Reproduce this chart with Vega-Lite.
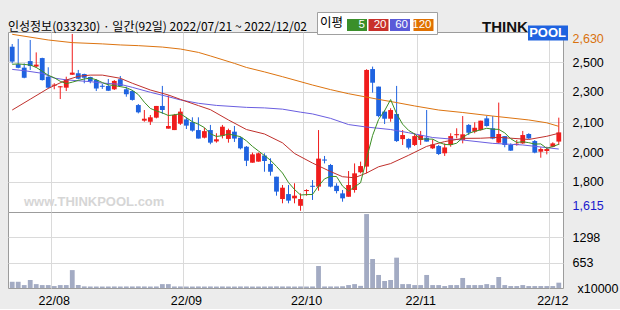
{
  "$schema": "https://vega.github.io/schema/vega-lite/v6.json",
  "background": "#ececec",
  "padding": {"left": 7, "top": 11, "right": 5, "bottom": 2},
  "spacing": 0,
  "bounds": "flush",
  "config": {
    "view": {"stroke": "#9c9c9c", "fill": "#ffffff"},
    "axis": {"gridColor": "#dadada", "gridWidth": 1, "labelFont": "Liberation Sans", "labelFontSize": 12.5, "labelColor": "#000000", "ticks": false, "domain": false, "title": null, "labelOverlap": false}
  },
  "datasets": {
    "candles": [
      {"d":"2022-07-21","o":2547,"h":2562,"l":2453,"c":2463,"vol":160},
      {"d":"2022-07-22","o":2448,"h":2591,"l":2425,"c":2428,"vol":160},
      {"d":"2022-07-25","o":2429,"h":2453,"l":2369,"c":2372,"vol":75},
      {"d":"2022-07-26","o":2466,"h":2585,"l":2416,"c":2438,"vol":205},
      {"d":"2022-07-27","o":2435,"h":2515,"l":2429,"c":2446,"vol":100},
      {"d":"2022-07-28","o":2483,"h":2485,"l":2356,"c":2359,"vol":75},
      {"d":"2022-07-29","o":2378,"h":2431,"l":2312,"c":2316,"vol":75},
      {"d":"2022-08-01","o":2327,"h":2341,"l":2307,"c":2333,"vol":50},
      {"d":"2022-08-02","o":2318,"h":2325,"l":2252,"c":2324,"vol":75},
      {"d":"2022-08-03","o":2316,"h":2378,"l":2297,"c":2363,"vol":75},
      {"d":"2022-08-04","o":2389,"h":2619,"l":2388,"c":2401,"vol":460},
      {"d":"2022-08-05","o":2397,"h":2416,"l":2363,"c":2367,"vol":75},
      {"d":"2022-08-08","o":2393,"h":2395,"l":2341,"c":2372,"vol":42},
      {"d":"2022-08-09","o":2376,"h":2378,"l":2341,"c":2354,"vol":40},
      {"d":"2022-08-10","o":2359,"h":2365,"l":2297,"c":2311,"vol":40},
      {"d":"2022-08-11","o":2327,"h":2337,"l":2309,"c":2321,"vol":38},
      {"d":"2022-08-12","o":2326,"h":2365,"l":2297,"c":2299,"vol":40},
      {"d":"2022-08-16","o":2307,"h":2359,"l":2303,"c":2354,"vol":40},
      {"d":"2022-08-17","o":2363,"h":2382,"l":2322,"c":2326,"vol":38},
      {"d":"2022-08-18","o":2307,"h":2322,"l":2265,"c":2279,"vol":40},
      {"d":"2022-08-19","o":2297,"h":2303,"l":2243,"c":2247,"vol":40},
      {"d":"2022-08-22","o":2218,"h":2224,"l":2171,"c":2177,"vol":42},
      {"d":"2022-08-23","o":2130,"h":2190,"l":2124,"c":2141,"vol":40},
      {"d":"2022-08-24","o":2124,"h":2162,"l":2106,"c":2149,"vol":38},
      {"d":"2022-08-25","o":2147,"h":2213,"l":2143,"c":2213,"vol":40},
      {"d":"2022-08-26","o":2213,"h":2326,"l":2168,"c":2190,"vol":100},
      {"d":"2022-08-29","o":2085,"h":2273,"l":2085,"c":2100,"vol":100},
      {"d":"2022-08-30","o":2077,"h":2168,"l":2077,"c":2162,"vol":40},
      {"d":"2022-08-31","o":2113,"h":2200,"l":2106,"c":2181,"vol":40},
      {"d":"2022-09-01","o":2137,"h":2149,"l":2083,"c":2102,"vol":38},
      {"d":"2022-09-02","o":2122,"h":2149,"l":2068,"c":2074,"vol":38},
      {"d":"2022-09-05","o":2077,"h":2149,"l":2029,"c":2029,"vol":40},
      {"d":"2022-09-06","o":2034,"h":2090,"l":2030,"c":2071,"vol":38},
      {"d":"2022-09-07","o":2077,"h":2106,"l":1997,"c":2006,"vol":40},
      {"d":"2022-09-08","o":2013,"h":2059,"l":2006,"c":2025,"vol":38},
      {"d":"2022-09-13","o":2045,"h":2106,"l":2030,"c":2096,"vol":40},
      {"d":"2022-09-14","o":2027,"h":2085,"l":2006,"c":2077,"vol":38},
      {"d":"2022-09-15","o":2068,"h":2100,"l":2010,"c":2029,"vol":38},
      {"d":"2022-09-16","o":2034,"h":2040,"l":1968,"c":1974,"vol":40},
      {"d":"2022-09-19","o":1983,"h":1987,"l":1874,"c":1904,"vol":40},
      {"d":"2022-09-20","o":1893,"h":1950,"l":1893,"c":1940,"vol":38},
      {"d":"2022-09-21","o":1899,"h":1950,"l":1899,"c":1946,"vol":38},
      {"d":"2022-09-22","o":1933,"h":1946,"l":1842,"c":1903,"vol":40},
      {"d":"2022-09-23","o":1886,"h":1918,"l":1820,"c":1842,"vol":40},
      {"d":"2022-09-26","o":1814,"h":1814,"l":1707,"c":1730,"vol":42},
      {"d":"2022-09-27","o":1688,"h":1767,"l":1664,"c":1752,"vol":40},
      {"d":"2022-09-28","o":1716,"h":1767,"l":1664,"c":1679,"vol":40},
      {"d":"2022-09-29","o":1692,"h":1777,"l":1664,"c":1707,"vol":38},
      {"d":"2022-09-30","o":1650,"h":1720,"l":1622,"c":1688,"vol":40},
      {"d":"2022-10-04","o":1733,"h":1743,"l":1707,"c":1739,"vol":38},
      {"d":"2022-10-05","o":1763,"h":1795,"l":1683,"c":1757,"vol":40},
      {"d":"2022-10-06","o":1758,"h":2077,"l":1735,"c":1916,"vol":565},
      {"d":"2022-10-07","o":1911,"h":1931,"l":1889,"c":1905,"vol":40},
      {"d":"2022-10-11","o":1880,"h":1886,"l":1754,"c":1758,"vol":40},
      {"d":"2022-10-12","o":1763,"h":1777,"l":1720,"c":1733,"vol":40},
      {"d":"2022-10-13","o":1720,"h":1739,"l":1673,"c":1692,"vol":45},
      {"d":"2022-10-14","o":1701,"h":1846,"l":1701,"c":1767,"vol":75},
      {"d":"2022-10-17","o":1739,"h":1889,"l":1724,"c":1833,"vol":100},
      {"d":"2022-10-18","o":1839,"h":1899,"l":1833,"c":1874,"vol":55},
      {"d":"2022-10-19","o":1871,"h":2420,"l":1833,"c":2416,"vol":1900},
      {"d":"2022-10-20","o":2421,"h":2435,"l":2288,"c":2344,"vol":745},
      {"d":"2022-10-21","o":2322,"h":2322,"l":2149,"c":2156,"vol":335},
      {"d":"2022-10-24","o":2181,"h":2190,"l":2111,"c":2141,"vol":180},
      {"d":"2022-10-25","o":2141,"h":2200,"l":2124,"c":2190,"vol":205},
      {"d":"2022-10-26","o":2168,"h":2326,"l":2010,"c":2015,"vol":780},
      {"d":"2022-10-27","o":2026,"h":2077,"l":1993,"c":2049,"vol":100},
      {"d":"2022-10-28","o":2027,"h":2030,"l":1968,"c":1978,"vol":100},
      {"d":"2022-10-31","o":1993,"h":2059,"l":1987,"c":2043,"vol":75},
      {"d":"2022-11-01","o":2021,"h":2072,"l":1993,"c":2049,"vol":75},
      {"d":"2022-11-02","o":2034,"h":2190,"l":2012,"c":2012,"vol":335},
      {"d":"2022-11-03","o":1974,"h":2025,"l":1970,"c":1996,"vol":75},
      {"d":"2022-11-04","o":1987,"h":1993,"l":1936,"c":1942,"vol":75},
      {"d":"2022-11-07","o":1946,"h":2002,"l":1931,"c":1979,"vol":50},
      {"d":"2022-11-08","o":1993,"h":2059,"l":1983,"c":2043,"vol":75},
      {"d":"2022-11-09","o":2048,"h":2087,"l":2030,"c":2054,"vol":75},
      {"d":"2022-11-10","o":2021,"h":2156,"l":2002,"c":2053,"vol":258},
      {"d":"2022-11-11","o":2106,"h":2111,"l":2049,"c":2062,"vol":75},
      {"d":"2022-11-14","o":2068,"h":2121,"l":2059,"c":2090,"vol":75},
      {"d":"2022-11-15","o":2077,"h":2130,"l":2074,"c":2130,"vol":75},
      {"d":"2022-11-16","o":2143,"h":2156,"l":2096,"c":2100,"vol":100},
      {"d":"2022-11-17","o":2087,"h":2156,"l":2025,"c":2029,"vol":75},
      {"d":"2022-11-18","o":2006,"h":2232,"l":2002,"c":2055,"vol":283},
      {"d":"2022-11-21","o":2043,"h":2043,"l":1980,"c":1993,"vol":75},
      {"d":"2022-11-22","o":1993,"h":2002,"l":1959,"c":1961,"vol":50},
      {"d":"2022-11-23","o":1994,"h":2021,"l":1989,"c":2000,"vol":50},
      {"d":"2022-11-24","o":2002,"h":2072,"l":1999,"c":2049,"vol":75},
      {"d":"2022-11-25","o":2055,"h":2059,"l":2027,"c":2030,"vol":50},
      {"d":"2022-11-28","o":2015,"h":2021,"l":1946,"c":1950,"vol":50},
      {"d":"2022-11-29","o":1955,"h":1980,"l":1921,"c":1970,"vol":50},
      {"d":"2022-11-30","o":1959,"h":1983,"l":1940,"c":1970,"vol":50},
      {"d":"2022-12-01","o":1983,"h":2008,"l":1980,"c":2002,"vol":50},
      {"d":"2022-12-02","o":2012,"h":2147,"l":1993,"c":2064,"vol":137}
    ],
    "ma": [
      {"d":"2022-07-21","ma":"120","v":2617},{"d":"2022-07-29","ma":"120","v":2585},{"d":"2022-08-04","ma":"120","v":2570},{"d":"2022-08-11","ma":"120","v":2563},{"d":"2022-08-17","ma":"120","v":2557},{"d":"2022-08-22","ma":"120","v":2553},{"d":"2022-08-26","ma":"120","v":2545},{"d":"2022-08-31","ma":"120","v":2534},{"d":"2022-09-05","ma":"120","v":2515},{"d":"2022-09-07","ma":"120","v":2495},{"d":"2022-09-15","ma":"120","v":2453},{"d":"2022-09-19","ma":"120","v":2430},{"d":"2022-09-22","ma":"120","v":2405},{"d":"2022-09-27","ma":"120","v":2378},{"d":"2022-10-05","ma":"120","v":2331},{"d":"2022-10-11","ma":"120","v":2305},{"d":"2022-10-14","ma":"120","v":2282},{"d":"2022-10-21","ma":"120","v":2250},{"d":"2022-10-26","ma":"120","v":2232},{"d":"2022-10-31","ma":"120","v":2213},{"d":"2022-11-04","ma":"120","v":2190},{"d":"2022-11-10","ma":"120","v":2176},{"d":"2022-11-17","ma":"120","v":2156},{"d":"2022-11-25","ma":"120","v":2134},{"d":"2022-11-30","ma":"120","v":2118},{"d":"2022-12-02","ma":"120","v":2098},
      {"d":"2022-07-21","ma":"60","v":2419},{"d":"2022-07-25","ma":"60","v":2412},{"d":"2022-07-28","ma":"60","v":2397},{"d":"2022-08-01","ma":"60","v":2370},{"d":"2022-08-03","ma":"60","v":2360},{"d":"2022-08-09","ma":"60","v":2350},{"d":"2022-08-11","ma":"60","v":2342},{"d":"2022-08-17","ma":"60","v":2335},{"d":"2022-08-19","ma":"60","v":2318},{"d":"2022-08-24","ma":"60","v":2290},{"d":"2022-08-29","ma":"60","v":2265},{"d":"2022-08-31","ma":"60","v":2247},{"d":"2022-09-05","ma":"60","v":2228},{"d":"2022-09-08","ma":"60","v":2216},{"d":"2022-09-19","ma":"60","v":2205},{"d":"2022-09-22","ma":"60","v":2202},{"d":"2022-09-27","ma":"60","v":2195},{"d":"2022-09-30","ma":"60","v":2178},{"d":"2022-10-05","ma":"60","v":2168},{"d":"2022-10-11","ma":"60","v":2143},{"d":"2022-10-14","ma":"60","v":2108},{"d":"2022-10-19","ma":"60","v":2094},{"d":"2022-10-25","ma":"60","v":2080},{"d":"2022-10-28","ma":"60","v":2062},{"d":"2022-11-03","ma":"60","v":2035},{"d":"2022-11-10","ma":"60","v":2021},{"d":"2022-11-17","ma":"60","v":2002},{"d":"2022-11-24","ma":"60","v":1993},{"d":"2022-12-02","ma":"60","v":1970},
      {"d":"2022-07-21","ma":"20","v":2190},{"d":"2022-07-26","ma":"20","v":2251},{"d":"2022-07-29","ma":"20","v":2312},{"d":"2022-08-03","ma":"20","v":2359},{"d":"2022-08-05","ma":"20","v":2380},{"d":"2022-08-09","ma":"20","v":2387},{"d":"2022-08-11","ma":"20","v":2387},{"d":"2022-08-17","ma":"20","v":2369},{"d":"2022-08-19","ma":"20","v":2341},{"d":"2022-08-24","ma":"20","v":2303},{"d":"2022-08-29","ma":"20","v":2275},{"d":"2022-08-31","ma":"20","v":2250},{"d":"2022-09-05","ma":"20","v":2215},{"d":"2022-09-07","ma":"20","v":2192},{"d":"2022-09-14","ma":"20","v":2134},{"d":"2022-09-19","ma":"20","v":2080},{"d":"2022-09-22","ma":"20","v":2055},{"d":"2022-09-27","ma":"20","v":2005},{"d":"2022-09-29","ma":"20","v":1945},{"d":"2022-10-05","ma":"20","v":1891},{"d":"2022-10-11","ma":"20","v":1843},{"d":"2022-10-13","ma":"20","v":1814},{"d":"2022-10-17","ma":"20","v":1808},{"d":"2022-10-19","ma":"20","v":1835},{"d":"2022-10-21","ma":"20","v":1870},{"d":"2022-10-25","ma":"20","v":1888},{"d":"2022-10-28","ma":"20","v":1935},{"d":"2022-11-02","ma":"20","v":1985},{"d":"2022-11-07","ma":"20","v":2012},{"d":"2022-11-10","ma":"20","v":2030},{"d":"2022-11-15","ma":"20","v":2031},{"d":"2022-11-18","ma":"20","v":2036},{"d":"2022-11-25","ma":"20","v":2024},{"d":"2022-11-30","ma":"20","v":2042},{"d":"2022-12-02","ma":"20","v":2059},
      {"d":"2022-07-21","ma":"5","v":2448},{"d":"2022-07-22","ma":"5","v":2450},{"d":"2022-07-25","ma":"5","v":2447},{"d":"2022-07-26","ma":"5","v":2444},{"d":"2022-07-27","ma":"5","v":2430},{"d":"2022-07-28","ma":"5","v":2409},{"d":"2022-07-29","ma":"5","v":2386},{"d":"2022-08-01","ma":"5","v":2372},{"d":"2022-08-02","ma":"5","v":2352},{"d":"2022-08-03","ma":"5","v":2339},{"d":"2022-08-04","ma":"5","v":2347},{"d":"2022-08-05","ma":"5","v":2357},{"d":"2022-08-08","ma":"5","v":2365},{"d":"2022-08-09","ma":"5","v":2370},{"d":"2022-08-10","ma":"5","v":2361},{"d":"2022-08-11","ma":"5","v":2345},{"d":"2022-08-12","ma":"5","v":2332},{"d":"2022-08-16","ma":"5","v":2328},{"d":"2022-08-17","ma":"5","v":2322},{"d":"2022-08-18","ma":"5","v":2316},{"d":"2022-08-19","ma":"5","v":2301},{"d":"2022-08-22","ma":"5","v":2277},{"d":"2022-08-23","ma":"5","v":2234},{"d":"2022-08-24","ma":"5","v":2199},{"d":"2022-08-25","ma":"5","v":2185},{"d":"2022-08-26","ma":"5","v":2174},{"d":"2022-08-29","ma":"5","v":2159},{"d":"2022-08-30","ma":"5","v":2163},{"d":"2022-08-31","ma":"5","v":2169},{"d":"2022-09-01","ma":"5","v":2147},{"d":"2022-09-02","ma":"5","v":2124},{"d":"2022-09-05","ma":"5","v":2110},{"d":"2022-09-06","ma":"5","v":2091},{"d":"2022-09-07","ma":"5","v":2056},{"d":"2022-09-08","ma":"5","v":2041},{"d":"2022-09-13","ma":"5","v":2045},{"d":"2022-09-14","ma":"5","v":2055},{"d":"2022-09-15","ma":"5","v":2047},{"d":"2022-09-16","ma":"5","v":2040},{"d":"2022-09-19","ma":"5","v":2016},{"d":"2022-09-20","ma":"5","v":1985},{"d":"2022-09-21","ma":"5","v":1959},{"d":"2022-09-22","ma":"5","v":1933},{"d":"2022-09-23","ma":"5","v":1907},{"d":"2022-09-26","ma":"5","v":1872},{"d":"2022-09-27","ma":"5","v":1835},{"d":"2022-09-28","ma":"5","v":1781},{"d":"2022-09-29","ma":"5","v":1742},{"d":"2022-09-30","ma":"5","v":1711},{"d":"2022-10-04","ma":"5","v":1713},{"d":"2022-10-05","ma":"5","v":1714},{"d":"2022-10-06","ma":"5","v":1762},{"d":"2022-10-07","ma":"5","v":1802},{"d":"2022-10-11","ma":"5","v":1816},{"d":"2022-10-12","ma":"5","v":1815},{"d":"2022-10-13","ma":"5","v":1761},{"d":"2022-10-14","ma":"5","v":1732},{"d":"2022-10-17","ma":"5","v":1757},{"d":"2022-10-18","ma":"5","v":1780},{"d":"2022-10-19","ma":"5","v":1916},{"d":"2022-10-20","ma":"5","v":2047},{"d":"2022-10-21","ma":"5","v":2137},{"d":"2022-10-24","ma":"5","v":2186},{"d":"2022-10-25","ma":"5","v":2249},{"d":"2022-10-26","ma":"5","v":2169},{"d":"2022-10-27","ma":"5","v":2110},{"d":"2022-10-28","ma":"5","v":2075},{"d":"2022-10-31","ma":"5","v":2055},{"d":"2022-11-01","ma":"5","v":2027},{"d":"2022-11-02","ma":"5","v":2026},{"d":"2022-11-03","ma":"5","v":2026},{"d":"2022-11-04","ma":"5","v":2008},{"d":"2022-11-07","ma":"5","v":1996},{"d":"2022-11-08","ma":"5","v":1994},{"d":"2022-11-09","ma":"5","v":2003},{"d":"2022-11-10","ma":"5","v":2034},{"d":"2022-11-11","ma":"5","v":2058},{"d":"2022-11-14","ma":"5","v":2070},{"d":"2022-11-15","ma":"5","v":2078},{"d":"2022-11-16","ma":"5","v":2087},{"d":"2022-11-17","ma":"5","v":2082},{"d":"2022-11-18","ma":"5","v":2081},{"d":"2022-11-21","ma":"5","v":2061},{"d":"2022-11-22","ma":"5","v":2028},{"d":"2022-11-23","ma":"5","v":2007},{"d":"2022-11-24","ma":"5","v":2011},{"d":"2022-11-25","ma":"5","v":2006},{"d":"2022-11-28","ma":"5","v":1998},{"d":"2022-11-29","ma":"5","v":1999},{"d":"2022-11-30","ma":"5","v":1974},{"d":"2022-12-01","ma":"5","v":1984},{"d":"2022-12-02","ma":"5","v":1997}
    ]
  },
  "vconcat": [
    {
      "width": 555,
      "height": 180,
      "title": {"text": "인성정보(033230) · 일간(92일) 2022/07/21 ~ 2022/12/02", "anchor": "start", "frame": "group", "fontSize": 12, "font": "Noto Sans CJK KR", "fontWeight": "normal", "color": "#000000", "offset": -2},
      "layer": [
        {
          "data": {"name": "candles"},
          "mark": {"type": "rule", "strokeWidth": 1},
          "encoding": {
            "x": {"field": "d", "type": "ordinal", "scale": {"paddingInner": 0.2, "paddingOuter": 0.3},
                  "axis": {"labels": false, "grid": true, "values": ["2022-08-01","2022-09-01","2022-10-04","2022-11-01","2022-12-01"], "bandPosition": -0.12}},
            "y": {"field": "l", "type": "quantitative", "scale": {"domain": [1615, 2630], "nice": false, "zero": false},
                  "axis": {"orient": "right", "values": [1615, 1784.17, 1953.33, 2122.5, 2291.67, 2460.83, 2630], "tickCount": 20,
                           "labelExpr": "datum.value >= 2629 ? '2,630' : datum.value <= 1616 ? '1,615' : format(round(datum.value / 100) * 100, ',')",
                           "labelFlush": true, "labelOverlap": false, "labelPadding": 9, "grid": true,
                           "gridOpacity": {"condition": {"test": "datum.value <= 1616 || datum.value >= 2629", "value": 0}, "value": 1},
                           "labelColor": {"condition": [{"test": "datum.value >= 2629", "value": "#d9720e"}, {"test": "datum.value <= 1616", "value": "#1a1acc"}], "value": "#000000"}}},
            "y2": {"field": "h"},
            "color": {"condition": {"test": "datum.c >= datum.o", "value": "#f01c1c"}, "value": "#1f63e0"}
          }
        },
        {
          "data": {"name": "candles"},
          "mark": {"type": "bar"},
          "encoding": {
            "x": {"field": "d", "type": "ordinal"},
            "y": {"field": "o", "type": "quantitative", "scale": {"domain": [1615, 2630], "nice": false, "zero": false}},
            "y2": {"field": "c"},
            "color": {"condition": {"test": "datum.c >= datum.o", "value": "#f01c1c"}, "value": "#1f63e0"},
            "opacity": {"datum": "POOL", "type": "nominal", "scale": {"type": "ordinal", "domain": ["POOL"], "range": [1]},
                        "legend": {"orient": "none", "legendX": 474, "legendY": -19, "title": "THINK", "titleOrient": "left", "titleFont": "Liberation Sans", "titleFontSize": 15, "titleFontWeight": 900, "titleColor": "#111111", "titlePadding": 0, "symbolType": "M-1,-0.375H1V0.375H-1Z", "symbolSize": 1600, "symbolFillColor": "#3b7ee0", "symbolStrokeWidth": 0, "symbolOpacity": 1, "labelColor": "#ffffff", "labelFont": "Liberation Sans", "labelFontSize": 13, "labelFontWeight": "bold", "labelAlign": "right", "labelOffset": -2, "padding": 0}}
          }
        },
        {
          "data": {"name": "ma"},
          "mark": {"type": "line", "strokeWidth": 1},
          "encoding": {
            "x": {"field": "d", "type": "ordinal"},
            "y": {"field": "v", "type": "quantitative", "scale": {"domain": [1615, 2630], "nice": false, "zero": false}},
            "stroke": {"field": "ma", "type": "nominal", "scale": {"range": ["#dd7410","#c0302c","#3c8f24","#6a5ee0"]}, "legend": null}
          }
        },
        {
          "data": {"name": "ma"},
          "mark": {"type": "point", "filled": true, "size": 1, "opacity": 0},
          "encoding": {
            "x": {"field": "d", "type": "ordinal"},
            "y": {"field": "v", "type": "quantitative", "scale": {"domain": [1615, 2630], "nice": false, "zero": false}},
            "fill": {"field": "ma", "type": "nominal", "scale": {"domain": ["5","20","60","120"], "range": ["#3a8f2a","#c8302a","#5a5ad8","#e07000"]},
                     "legend": {"orient": "none", "legendX": 309, "legendY": -20, "direction": "horizontal", "title": "이평", "titleOrient": "left", "titleFont": "Noto Sans CJK KR", "titleFontSize": 12.5, "titleFontWeight": "normal", "titleColor": "#000000", "titlePadding": 3, "fillColor": "#ffffff", "strokeColor": "#a0a0a0", "padding": 3, "symbolType": "M-1,-0.6H1V0.6H-1Z", "symbolSize": 400, "symbolStrokeWidth": 0, "symbolOpacity": 1, "labelColor": "#ffffff", "labelFont": "Liberation Sans", "labelFontSize": 11.5, "labelAlign": "right", "labelOffset": -2, "columnPadding": 1.5}}
          }
        }
      ]
    },
    {
      "width": 555,
      "height": 76,
      "title": {"text": "www.THINKPOOL.com", "anchor": "start", "frame": "group", "offset": 3, "dx": 16, "fontSize": 13, "fontWeight": "bold", "font": "Liberation Sans", "color": "#d6d6d6"},
      "data": {"name": "candles"},
      "mark": {"type": "bar", "color": "#a3abc3"},
      "encoding": {
        "x": {"field": "d", "type": "ordinal", "scale": {"paddingInner": 0.2, "paddingOuter": 0.3},
              "axis": {"grid": true, "values": ["2022-08-01","2022-09-01","2022-10-04","2022-11-01","2022-12-01"], "bandPosition": -0.12, "labelExpr": "'22/' + slice(datum.value, 5, 7)", "labelAngle": 0, "labelPadding": 6}},
        "y": {"field": "vol", "type": "quantitative", "scale": {"domain": [0, 1953], "nice": false},
              "axis": {"orient": "right", "values": [0, 651, 1302], "tickCount": 20, "labelOverlap": false, "labelExpr": "datum.value > 1000 ? '1298' : datum.value > 300 ? '653' : 'x10000'", "grid": true,
                       "gridOpacity": {"condition": {"test": "datum.value < 1", "value": 0}, "value": 1},
                       "labelPadding": {"condition": {"test": "datum.value < 1", "value": 14}, "value": 9}}}
      }
    }
  ]
}
